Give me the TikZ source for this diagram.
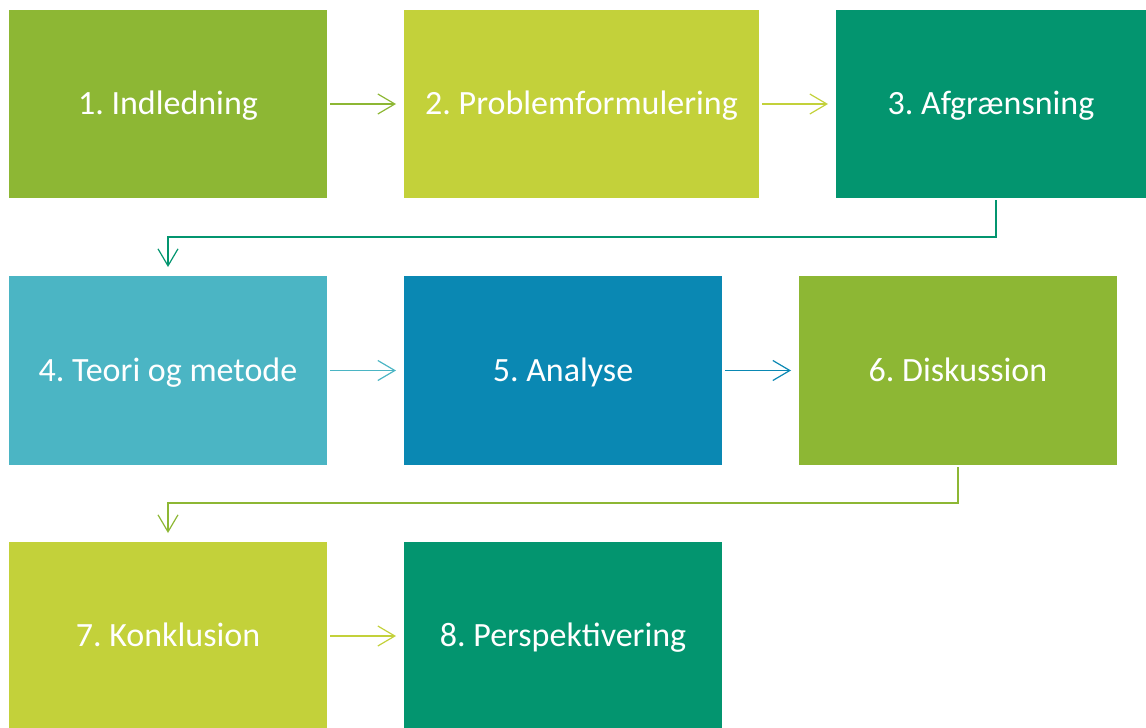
\documentclass[tikz,border=0pt]{standalone}
\usepackage{fontspec}
\setmainfont{Carlito}
\usepackage{tikz}
\usetikzlibrary{arrows.meta,positioning,calc}

\definecolor{leaf}{HTML}{8DB734}
\definecolor{lime}{HTML}{C3D13A}
\definecolor{sea}{HTML}{03956F}
\definecolor{sky}{HTML}{4BB5C4}
\definecolor{ocean}{HTML}{0A88B3}

\tikzset{
    phase/.style={rectangle, fill=#1, text=white, inner sep=0pt, outer sep=0pt,
        minimum width=318pt, minimum height=188pt, text height=26pt, text depth=5pt,
        font=\fontsize{34}{40}\selectfont\frenchspacing},
    flow/.style={draw=#1, line width=1.2pt, -{Straight Barb[length=17pt,width=20pt,line width=1.2pt]}}
}

\begin{document}
\begin{tikzpicture}[node distance=78pt and 77pt]
    \useasboundingbox (0,0) rectangle (1146pt,-728pt);

    % Row 1
    \node[phase=leaf, anchor=north west] (intro) at (9pt,-10pt) {1. Indledning};
    \node[phase=lime, right=of intro, minimum width=355pt] (problem) {2. Problemformulering};
    \node[phase=sea, right=of problem, minimum width=310pt] (scope) {3. Afgrænsning};

    % Row 2
    \node[phase=sky, below=of intro, minimum height=189pt] (theory) {4. Teori og metode};
    \node[phase=ocean, right=of theory, minimum height=189pt] (analysis) {5. Analyse};
    \node[phase=leaf, right=of analysis, minimum height=189pt] (discussion) {6. Diskussion};

    % Row 3
    \node[phase=lime, below=77pt of theory] (conclusion) {7. Konklusion};
    \node[phase=sea, right=of conclusion] (outlook) {8. Perspektivering};

    % Straight steps
    \draw[flow=leaf, shorten <=3pt, shorten >=8pt] (intro) -- (problem);
    \draw[flow=lime, shorten <=3pt, shorten >=8pt] (problem) -- (scope);
    \draw[flow=sky, shorten <=3pt, shorten >=8pt] (theory) -- (analysis);
    \draw[flow=ocean, shorten <=3pt, shorten >=8pt] (analysis) -- (discussion);
    \draw[flow=lime, shorten <=3pt, shorten >=8pt] (conclusion) -- (outlook);

    % Elbow steps to the next row
    \draw[flow=sea] ([shift={(5pt,-2pt)}]scope.south) -- ++(0,-37pt) -| ([yshift=9pt]theory.north);
    \draw[flow=leaf] ([yshift=-2pt]discussion.south) -- ++(0,-36pt) -| ([yshift=9pt]conclusion.north);
\end{tikzpicture}
\end{document}
